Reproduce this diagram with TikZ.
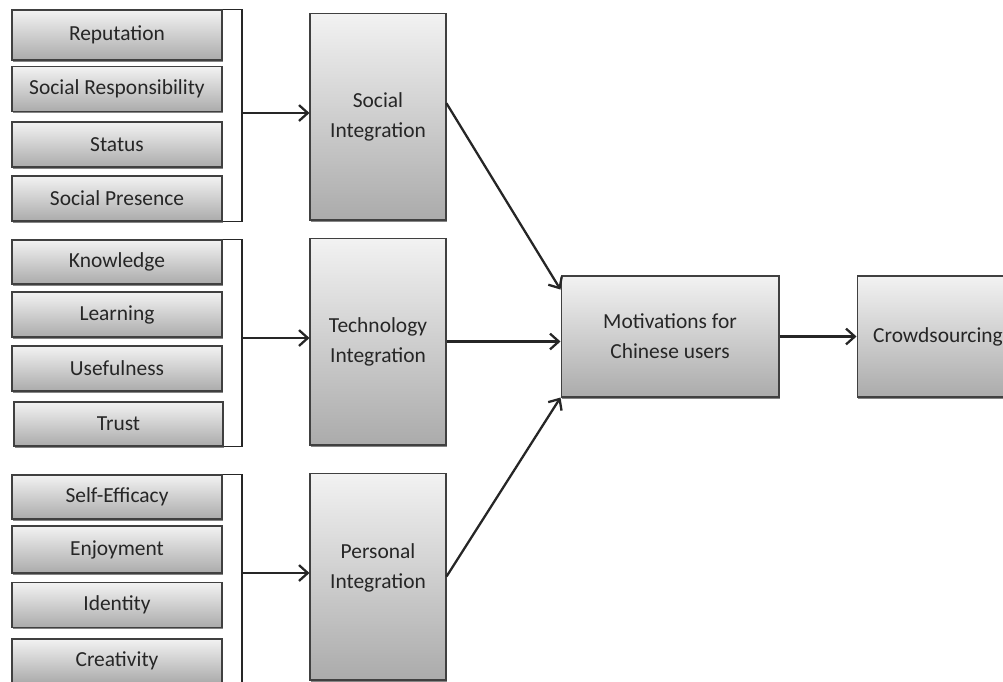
\documentclass[tikz,border=0pt]{standalone}
\usepackage{fontspec}
\setmainfont{Carlito}
\usetikzlibrary{arrows.meta,shadows}

\tikzset{
	item/.style={draw=black!75, line width=0.6pt, top color=black!5, bottom color=black!33,
		minimum width=4.2cm, minimum height=0.9cm, inner sep=0pt, text=black!85,
		font=\fontsize{12.2}{17}\selectfont, align=center,
		drop shadow={shadow xshift=0.4pt, shadow yshift=-1.1pt, opacity=0.6, fill=black!80}},
	block/.style={item, minimum width=2.72cm, minimum height=4.14cm},
	target/.style={item, minimum height=2.42cm},
	brace/.style={draw=black!85, line width=1pt},
	link/.style={draw=black!85, line width=1.3pt, -{Straight Barb[length=5pt,width=9pt]}},
}

\begin{document}
\begin{tikzpicture}[x=0.02cm, y=-0.02cm]
	\useasboundingbox (0,0) rectangle (1003,681);
	\clip (0,0) rectangle (1003,681);

	% social factors
	\node[item, minimum height=1cm] (rep) at (117,35) {Reputation};
	\node[item] (resp) at (117,89) {Social Responsibility};
	\node[item] (stat) at (117,144.5) {Status};
	\node[item] (pres) at (117,198.5) {Social Presence};

	% technology factors
	\node[item, minimum height=0.88cm] (know) at (117,262) {Knowledge};
	\node[item] (learn) at (117,314.5) {Learning};
	\node[item] (use) at (117,368.5) {Usefulness};
	\node[item, minimum height=0.88cm, minimum width=4.18cm] (trust) at (118.5,424) {Trust};

	% personal factors
	\node[item, minimum height=0.88cm] (self) at (117,497) {Self-Efficacy};
	\node[item, minimum height=0.94cm] (enjoy) at (117,549.5) {Enjoyment};
	\node[item] (ident) at (117,605) {Identity};
	\node[item, minimum height=0.88cm] (creat) at (117,661) {Creativity};

	% integrations
	\node[block] (soc) at (378,116.5) {Social\\Integration};
	\node[block] (tech) at (378,341.5) {Technology\\Integration};
	\node[block, label={[align=center, font=\fontsize{12.2}{17}\selectfont, text=black!85,
		yshift=5pt]center:Personal\\Integration}] (pers) at (378,576.5) {};

	\node[target, minimum width=4.36cm] (mot) at (670,336.5) {Motivations for\\Chinese users};
	\node[target, minimum width=3.24cm] (crowd) at (938,336.5) {Crowdsourcing};

	% brackets
	\coordinate (b1) at (242,113);
	\coordinate (b2) at (242,338);
	\coordinate (b3) at (242,573);
	\draw[brace] (rep.north east) -| (b1) |- (pres.south east);
	\draw[brace] (know.north east) -| (b2) |- (trust.south east);
	\draw[brace] (self.north east) -| (b3) |- (creat.south east);

	\draw[link] (b1) -- (soc.west |- b1);
	\draw[link] (b2) -- (tech.west |- b2);
	\draw[link] (b3) -- (pers.west |- b3);

	\draw[link] ([yshift=7.5pt]soc.east) -- ([yshift=-8pt]mot.north west);
	\draw[link] (tech.east) -- (tech.east -| mot.west);
	\draw[link] (pers.east) -- (mot.south west);
	\draw[link] (mot.east) -- (crowd.west);
\end{tikzpicture}
\end{document}
